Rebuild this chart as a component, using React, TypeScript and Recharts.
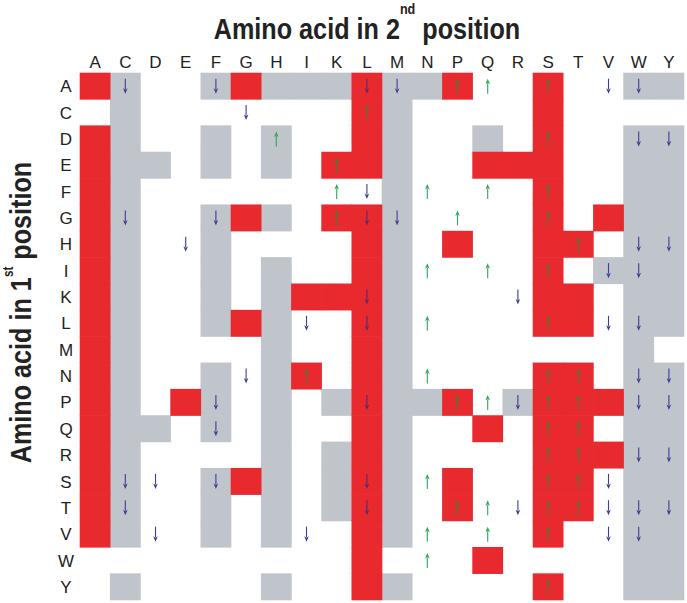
import { ScatterChart, Scatter, XAxis, YAxis, Label } from "recharts";

// amino acids, same order on both axes
const aminoAcids = ["A", "C", "D", "E", "F", "G", "H", "I", "K", "L", "M", "N", "P", "Q", "R", "S", "T", "V", "W", "Y"];

// one string per 1st-position row, one char per 2nd-position column
// r = red, g = grey, . = blank
const cellRows = [
  "rg..grgggrggr..r..gg", // A
  ".g.......rg....r....", // C
  "rg..g.g..rg..g.r..gg", // D
  "rgg.g.g.rrg..rrr..gg", // E
  "rg........g....r..gg", // F
  "rg..grg.rrg....r.rgg", // G
  "rg..g....rg.r..rr.gg", // H
  "rg..g.g..rg....r.ggg", // I
  "rg..g.grrrg....rr.gg", // K
  "rg..grg..rg....rr.gg", // L
  "rg....g..rg.......g.", // M
  "rg..g.gr.rg....rr.gg", // N
  "rg.rg.g.grggr.grrrgg", // P
  "rgg.g.g..rg..r.rr.gg", // Q
  "rg....g.grg....rrrgg", // R
  "rg..grg.grg.r..rr.gg", // S
  "rg..g.g.grg.r..rr.gg", // T
  "rg..g.g..rg....r..gg", // V
  ".........r...r....gg", // W
  ".g....g..rg....r..gg", // Y
];

// u = up arrow, d = down arrow
const arrowRows = [
  ".d..d....dd.uu.u.dd.", // A
  ".....d...u..........", // C
  "......u........u..dd", // D
  "........u...........", // E
  "........ud.u.u.u....", // F
  ".d..d...udd.u..u....", // G
  "...d............u.dd", // H
  "...........u.u.u.dd.", // I
  ".........d....d.....", // K
  ".......d.d.u...u.dd.", // L
  "....................", // M
  ".....d.u...u...uu.dd", // N
  "....d....d..uuduu.dd", // P
  "....d..........uu...", // Q
  "...............uu.dd", // R
  ".dd.d....d.u...uud..", // S
  ".d.......d..uuduuddd", // T
  "..d....d...u.u.u.dd.", // V
  "...........u........", // W
  "...............u....", // Y
];

const RED = "#e8292e";
const GREY = "#c0c4cb";
const BLUE = "#3b3e98";
const GREEN = "#2ea55a";
const BLUE_ON_RED = "#4d2f7a";
const GREEN_ON_RED = "#4a7a34";

const W = 687;
const H = 603;
const margin = { top: 48, right: 3, bottom: 3, left: 50 };
const X_AXIS_H = 25;
const Y_AXIS_W = 30;
const PLOT_W = W - margin.left - margin.right - Y_AXIS_W;
const PLOT_H = H - margin.top - margin.bottom - X_AXIS_H;
const ticks = aminoAcids.map((_, i) => i);

const cells = cellRows
  .flatMap((row, y) => row.split("").map((kind, x) => ({ x, y, kind })))
  .filter((d) => d.kind !== ".")
  .sort((a, b) => (a.kind === b.kind ? 0 : a.kind === "g" ? -1 : 1));

const arrows = arrowRows
  .flatMap((row, y) => row.split("").map((kind, x) => ({ x, y, kind, onRed: cellRows[y][x] === "r" })))
  .filter((d) => d.kind !== ".");
const ups = arrows.filter((d) => d.kind === "u");
const downs = arrows.filter((d) => d.kind === "d");

const CellShape = (props: any) => {
  const { cx, cy, payload } = props;
  const w = PLOT_W / aminoAcids.length;
  const h = PLOT_H / aminoAcids.length;
  return (
    <rect
      x={cx - w / 2 - 0.3}
      y={cy - h / 2 - 0.3}
      width={w + 0.6}
      height={h + 0.6}
      fill={payload.kind === "r" ? RED : GREY}
    />
  );
};

const ArrowShape = (props: any) => {
  const { cx, cy, payload } = props;
  const up = payload.kind === "u";
  const color = up ? (payload.onRed ? GREEN_ON_RED : GREEN) : payload.onRed ? BLUE_ON_RED : BLUE;
  const s = up ? -1 : 1;
  const tip = cy + s * 7.5;
  const tail = cy - s * 7.5;
  const base = tip - s * 5.5;
  return (
    <g>
      <line x1={cx} x2={cx} y1={tail} y2={base + s * 1} stroke={color} strokeWidth={1.1} />
      <path d={`M${cx - 2.3},${base} L${cx},${tip} L${cx + 2.3},${base} L${cx},${base + s * 1.5} Z`} fill={color} />
    </g>
  );
};

const XTick = (props: any) => (
  <text x={props.x} y={props.y - 5} textAnchor="middle" fontSize={17} fill="#222" fontFamily="'Liberation Sans', Arial, sans-serif">
    {aminoAcids[props.payload.value]}
  </text>
);

const YTick = (props: any) => (
  <text x={props.x - 14} y={props.y} dy="0.36em" textAnchor="middle" fontSize={17} fill="#222" fontFamily="'Liberation Sans', Arial, sans-serif">
    {aminoAcids[props.payload.value]}
  </text>
);

const titleFont = "'Liberation Sans', Arial, sans-serif";
// the titles are set in a condensed bold face: squeeze them horizontally
const SQUEEZE = 0.84;

const TopTitle = (props: any) => {
  const vb = props.viewBox ?? { x: 80, y: 48, width: PLOT_W, height: X_AXIS_H };
  const x = vb.x + vb.width / 2 - 15;
  const y = vb.y - 9;
  return (
    <text transform={`translate(${x}, ${y}) scale(${SQUEEZE}, 1)`} textAnchor="middle" fontFamily={titleFont} fontWeight="bold" fontSize={30} fill="#222">
      Amino acid in 2
      <tspan fontSize={15} dy={-25}>nd</tspan>
      <tspan dy={25}> position</tspan>
    </text>
  );
};

const SideTitle = (props: any) => {
  const vb = props.viewBox ?? { x: 50, y: 73, width: Y_AXIS_W, height: PLOT_H };
  const x = vb.x - 19;
  const y = vb.y + vb.height / 2 - 24;
  return (
    <text transform={`translate(${x}, ${y}) rotate(-90) scale(${SQUEEZE}, 1)`} textAnchor="middle" fontFamily={titleFont} fontWeight="bold" fontSize={30} fill="#222">
      Amino acid in 1
      <tspan fontSize={14} dy={-18}>st</tspan>
      <tspan dy={18}> position</tspan>
    </text>
  );
};

export default function App() {
  return (
    <div style={{ position: "absolute", left: 0, top: 0, background: "#fff" }}>
      <ScatterChart width={W} height={H} margin={margin}>
        <XAxis
          dataKey="x"
          type="number"
          orientation="top"
          domain={[-0.5, aminoAcids.length - 0.5]}
          ticks={ticks}
          interval={0}
          height={X_AXIS_H}
          axisLine={false}
          tickLine={false}
          tickSize={0}
          tickMargin={0}
          tick={<XTick />}
        >
          <Label content={<TopTitle />} />
        </XAxis>
        <YAxis
          dataKey="y"
          type="number"
          reversed
          domain={[-0.5, aminoAcids.length - 0.5]}
          ticks={ticks}
          interval={0}
          width={Y_AXIS_W}
          axisLine={false}
          tickLine={false}
          tickSize={0}
          tickMargin={0}
          tick={<YTick />}
        >
          <Label content={<SideTitle />} />
        </YAxis>
        <Scatter data={cells} shape={<CellShape />} isAnimationActive={false} />
        <Scatter data={downs} shape={<ArrowShape />} isAnimationActive={false} />
        <Scatter data={ups} shape={<ArrowShape />} isAnimationActive={false} />
      </ScatterChart>
    </div>
  );
}
